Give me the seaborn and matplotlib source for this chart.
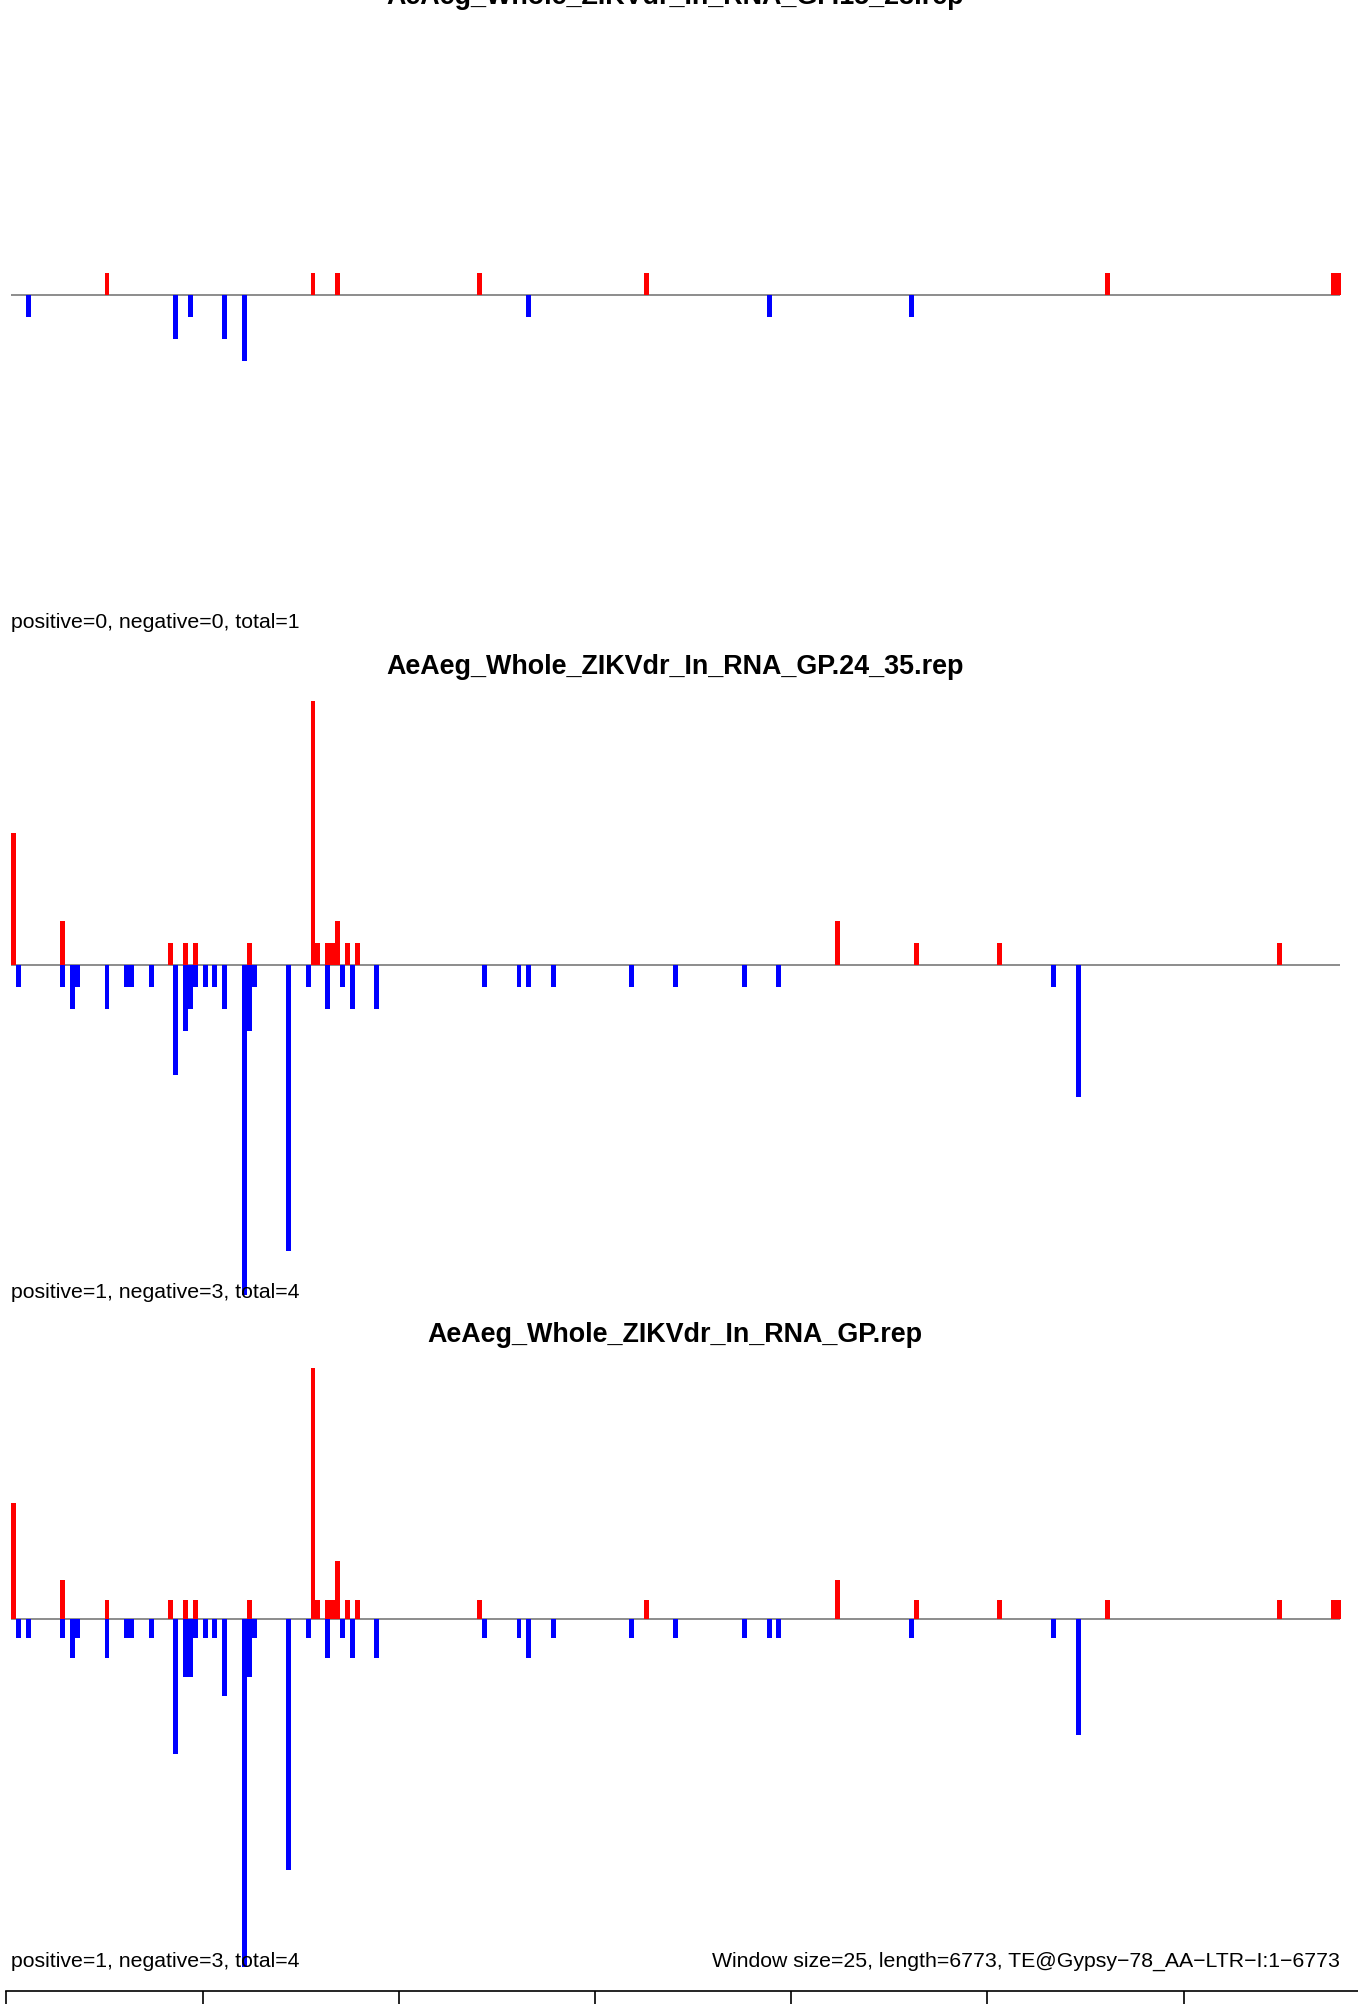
import pandas as pd
import matplotlib
matplotlib.use("Agg")
import matplotlib.pyplot as plt
import seaborn as sns

# window settings
WINDOW = 25
LENGTH = 6773

titles = [
    "AeAeg_Whole_ZIKVdr_In_RNA_GP.15_23.rep",
    "AeAeg_Whole_ZIKVdr_In_RNA_GP.24_35.rep",
    "AeAeg_Whole_ZIKVdr_In_RNA_GP.rep",
]
stats = [
    "positive=0, negative=0, total=1",
    "positive=1, negative=3, total=4",
    "positive=1, negative=3, total=4",
]
info = "Window size=25, length=6773, TE@Gypsy\u221278_AA\u2212LTR\u2212I:1\u22126773"

# window index -> read count (sense up, antisense down)
p1_pos_win = [20, 62, 67, 96, 130, 224, 270, 271]
p1_pos_val = [1, 1, 1, 1, 1, 1, 1, 1]
p1_neg_win = [4, 34, 37, 44, 48, 106, 155, 184]
p1_neg_val = [-1, -2, -1, -2, -3, -1, -1, -1]

p2_pos_win = [1, 11, 33, 36, 38, 49, 62, 63, 65, 66, 67, 69, 71, 169, 185, 202, 259]
p2_pos_val = [6, 2, 1, 1, 1, 1, 12, 1, 1, 1, 2, 1, 1, 2, 1, 1, 1]
p2_neg_win = [2, 11, 13, 14, 20, 24, 25, 29, 34, 36, 37, 38, 40, 42, 44, 48, 49, 50,
              57, 61, 65, 68, 70, 75, 97, 104, 106, 111, 127, 136, 150, 157, 213, 218]
p2_neg_val = [-1, -1, -2, -1, -2, -1, -1, -1, -5, -3, -2, -1, -1, -1, -2, -15, -3, -1,
              -13, -1, -2, -1, -2, -2, -1, -1, -1, -1, -1, -1, -1, -1, -1, -6]

p3_pos_win = [1, 11, 20, 33, 36, 38, 49, 62, 63, 65, 66, 67, 69, 71, 96, 130, 169,
              185, 202, 224, 259, 270, 271]
p3_pos_val = [6, 2, 1, 1, 1, 1, 1, 13, 1, 1, 1, 3, 1, 1, 1, 1, 2,
              1, 1, 1, 1, 1, 1]
p3_neg_win = [2, 4, 11, 13, 14, 20, 24, 25, 29, 34, 36, 37, 38, 40, 42, 44, 48, 49, 50,
              57, 61, 65, 68, 70, 75, 97, 104, 106, 111, 127, 136, 150, 155, 157, 184,
              213, 218]
p3_neg_val = [-1, -1, -1, -2, -1, -2, -1, -1, -1, -7, -3, -3, -1, -1, -1, -4, -18, -3, -1,
              -13, -1, -2, -1, -2, -2, -1, -1, -2, -1, -1, -1, -1, -1, -1, -1,
              -1, -6]

x_ticks = [0, 1000, 2000, 3000, 4000, 5000, 6000, 7000]

panels = [
    (p1_pos_win, p1_pos_val, p1_neg_win, p1_neg_val),
    (p2_pos_win, p2_pos_val, p2_neg_win, p2_neg_val),
    (p3_pos_win, p3_pos_val, p3_neg_win, p3_neg_val),
]

sns.set_style("white")
plt.rcParams["font.family"] = ["Liberation Sans", "DejaVu Sans"]
plt.rcParams["text.color"] = "black"

W, H = 1358, 2015
fig = plt.figure(figsize=(W / 100, H / 100), dpi=100)

# pixel layout (from top of image)
px_per_nt = 0.1962
x0 = 6.4
xlim = (-x0 / px_per_nt, (W - x0) / px_per_nt)
zero_px = [296, 966, 1620]
unit_px = [22, 22, 19.33]
title_px = [4, 674, 1342]
stats_px = [628, 1298, 1967]

palette = {"+": "#FF0000", "-": "#0000FF"}

for i, (pw, pv, nw, nv) in enumerate(panels):
    df = pd.DataFrame({
        "win": pw + nw,
        "count": pv + nv,
        "strand": ["+"] * len(pw) + ["-"] * len(nw),
    })
    df["pos"] = df["win"] * WINDOW + WINDOW / 2

    top = zero_px[i] - 330
    bottom = zero_px[i] + 360
    ax = fig.add_axes([0, 1 - bottom / H, 1, (bottom - top) / H])
    ax.patch.set_alpha(0)
    sns.barplot(data=df, x="pos", y="count", hue="strand", palette=palette,
                native_scale=True, width=1, dodge=False, errorbar=None,
                saturation=1, linewidth=0, legend=False, ax=ax)
    ax.hlines(0, WINDOW, LENGTH + WINDOW, color="#6e6e6e", lw=1.1, zorder=0)
    ax.set_xlim(xlim)
    ax.set_ylim(-(bottom - zero_px[i]) / unit_px[i], (zero_px[i] - top) / unit_px[i])
    ax.axis("off")

    fig.text(675 / W, 1 - title_px[i] / H, titles[i], ha="center", va="baseline",
             fontsize=19.4, fontweight="bold", color="black")
    fig.text(11 / W, 1 - stats_px[i] / H, stats[i], ha="left", va="baseline",
             fontsize=15.3, color="black")

fig.text(1340 / W, 1 - stats_px[2] / H, info, ha="right", va="baseline",
         fontsize=15.3, color="black")

# bottom axis
axb = fig.add_axes([0, 1 - 1992 / H, 1, 0.002])
axb.patch.set_alpha(0)
for s in ["top", "left", "right"]:
    axb.spines[s].set_visible(False)
axb.set_xticks(x_ticks)
axb.set_xticklabels([])
axb.set_yticks([])
axb.set_xlim(xlim)
axb.spines["bottom"].set_bounds(0, 7000)
axb.spines["bottom"].set_color("black")
axb.spines["bottom"].set_linewidth(1.2)
axb.tick_params(axis="x", length=9.4, width=1.2, direction="out", bottom=True, colors="black")

fig.savefig("out.png", dpi=100)
